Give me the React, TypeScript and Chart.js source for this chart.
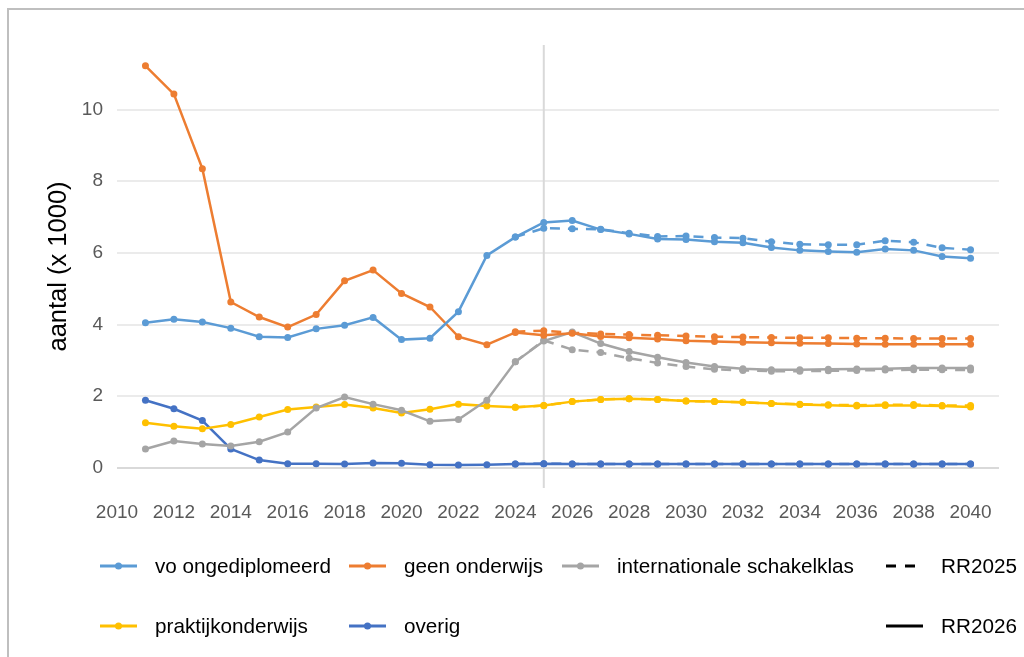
import React, { useEffect, useRef } from "react";
import { Chart, registerables } from "chart.js";

Chart.register(...registerables);

const years26 = [2011,2012,2013,2014,2015,2016,2017,2018,2019,2020,2021,2022,2023,2024,2025,2026,2027,2028,2029,2030,2031,2032,2033,2034,2035,2036,2037,2038,2039,2040];
const years25 = [2024,2025,2026,2027,2028,2029,2030,2031,2032,2033,2034,2035,2036,2037,2038,2039,2040];

const vo26 = [4.05,4.15,4.07,3.90,3.66,3.64,3.88,3.98,4.20,3.58,3.62,4.36,5.93,6.44,6.85,6.90,6.65,6.53,6.39,6.37,6.31,6.28,6.15,6.07,6.04,6.02,6.11,6.07,5.90,5.85];
const geen26 = [11.22,10.43,8.35,4.63,4.21,3.93,4.28,5.22,5.52,4.87,4.49,3.66,3.44,3.78,3.70,3.76,3.67,3.63,3.60,3.55,3.53,3.51,3.49,3.48,3.47,3.46,3.45,3.45,3.45,3.45];
const intl26 = [0.53,0.75,0.67,0.61,0.73,1.00,1.67,1.98,1.78,1.61,1.30,1.35,1.89,2.96,3.54,3.79,3.47,3.25,3.09,2.94,2.83,2.77,2.74,2.74,2.75,2.76,2.77,2.79,2.79,2.79];
const prak26 = [1.26,1.16,1.09,1.21,1.42,1.63,1.70,1.77,1.67,1.53,1.64,1.78,1.73,1.69,1.74,1.85,1.91,1.93,1.91,1.87,1.85,1.83,1.80,1.77,1.75,1.73,1.74,1.74,1.73,1.70];
const overig26 = [1.89,1.65,1.32,0.53,0.22,0.12,0.12,0.11,0.14,0.13,0.09,0.08,0.09,0.11,0.12,0.11,0.11,0.11,0.11,0.11,0.11,0.11,0.11,0.11,0.11,0.11,0.11,0.11,0.11,0.11];

const vo25 = [6.44,6.69,6.67,6.66,6.55,6.46,6.47,6.43,6.41,6.31,6.24,6.23,6.23,6.34,6.30,6.14,6.09];
const geen25 = [3.80,3.83,3.77,3.74,3.72,3.70,3.68,3.66,3.65,3.64,3.63,3.63,3.62,3.62,3.61,3.61,3.61];
const intl25 = [2.96,3.56,3.30,3.22,3.06,2.93,2.83,2.75,2.72,2.70,2.70,2.71,2.72,2.73,2.74,2.74,2.73];
const prak25 = [1.69,1.74,1.85,1.91,1.93,1.91,1.87,1.85,1.83,1.80,1.78,1.76,1.75,1.76,1.77,1.74,1.74];
const overig25 = [0.11,0.12,0.11,0.11,0.11,0.11,0.11,0.11,0.11,0.11,0.11,0.11,0.11,0.11,0.11,0.11,0.11];

const xTicks = [2010,2012,2014,2016,2018,2020,2022,2024,2026,2028,2030,2032,2034,2036,2038,2040];
const yTicks = [0,2,4,6,8,10];
const markerYear = 2025;

const seriesNames = ["vo ongediplomeerd", "geen onderwijs", "internationale schakelklas", "praktijkonderwijs", "overig"];
const seriesColors = ["#5B9BD5", "#ED7D31", "#A5A5A5", "#FFC000", "#4472C4"];
const FONT = "'Liberation Sans', Arial, sans-serif";

const pts = (xs: number[], ys: number[]) => xs.map((x, i) => ({ x, y: ys[i] }));

const vlinePlugin = {
  id: "vline",
  beforeDatasetsDraw(chart: any) {
    const { ctx, chartArea, scales } = chart;
    const x = scales.x.getPixelForValue(markerYear);
    ctx.save();
    ctx.strokeStyle = "#d9d9d9";
    ctx.lineWidth = 2;
    ctx.beginPath();
    ctx.moveTo(x, chartArea.top);
    ctx.lineTo(x, chartArea.bottom);
    ctx.stroke();
    ctx.restore();
  },
};

function LegendItem({ left, top, color, label, dashed, marker }: any) {
  return (
    <div style={{ position: "absolute", left, top, height: 24, display: "flex", alignItems: "center", whiteSpace: "nowrap" }}>
      <svg width={40} height={10} style={{ marginRight: 15 }}>
        <line x1={0} y1={5} x2={37} y2={5} stroke={color} strokeWidth={3} strokeDasharray={dashed ? "10 9" : undefined} />
        {marker ? <circle cx={18.5} cy={5} r={3.5} fill={color} /> : null}
      </svg>
      <span style={{ fontFamily: FONT, fontSize: 20.7, color: "#000" }}>{label}</span>
    </div>
  );
}

export default function App() {
  const ref = useRef<HTMLCanvasElement | null>(null);

  useEffect(() => {
    if (!ref.current) return;
    const solid = [vo26, geen26, intl26, prak26, overig26];
    const dash = [vo25, geen25, intl25, prak25, overig25];
    const datasets: any[] = [];
    solid.forEach((d, i) => {
      datasets.push({
        label: seriesNames[i] + " RR2026",
        data: pts(years26, d),
        borderColor: seriesColors[i],
        backgroundColor: seriesColors[i],
        borderWidth: 2.5,
        pointRadius: 3.5,
        pointBorderWidth: 0,
        pointBackgroundColor: seriesColors[i],
        tension: 0,
      });
    });
    dash.forEach((d, i) => {
      datasets.push({
        label: seriesNames[i] + " RR2025",
        data: pts(years25, d),
        borderColor: seriesColors[i],
        backgroundColor: seriesColors[i],
        borderWidth: 2.5,
        borderDash: [10, 8],
        pointRadius: 3.5,
        pointBorderWidth: 0,
        pointBackgroundColor: seriesColors[i],
        tension: 0,
      });
    });

    const chart = new Chart(ref.current, {
      type: "line",
      data: { datasets },
      plugins: [vlinePlugin],
      options: {
        animation: false,
        responsive: false,
        layout: { padding: { left: 0, top: 45, right: 25, bottom: 0 } },
        plugins: { legend: { display: false }, tooltip: { enabled: false } },
        scales: {
          x: {
            type: "linear",
            min: 2010,
            max: 2041,
            grid: { display: false, drawTicks: false },
            border: { display: false },
            afterBuildTicks: (s: any) => { s.ticks = xTicks.map((v) => ({ value: v })); },
            afterFit: (s: any) => { s.height = 657 - 488; },
            ticks: {
              autoSkip: false,
              maxRotation: 0,
              padding: 13,
              color: "#595959",
              font: { family: FONT, size: 19 },
              callback: (v: any) => String(v),
            },
          },
          y: {
            type: "linear",
            min: -0.56,
            max: 11.8,
            afterBuildTicks: (s: any) => { s.ticks = yTicks.map((v) => ({ value: v })); },
            afterFit: (s: any) => { s.width = 117; },
            grid: {
              drawTicks: false,
              lineWidth: 2,
              color: (c: any) => (c.tick && c.tick.value === 0 ? "#d9d9d9" : "#ebebeb"),
            },
            border: { display: false },
            ticks: {
              padding: 14,
              color: "#595959",
              font: { family: FONT, size: 19 },
              callback: (v: any) => String(v),
            },
            title: {
              display: true,
              text: "aantal (x 1000)",
              color: "#000",
              font: { family: FONT, size: 25.5 },
              padding: { top: 44, bottom: 0 },
            },
          },
        },
      },
    });
    return () => chart.destroy();
  }, []);

  return (
    <div style={{ position: "absolute", left: 0, top: 0, width: 1024, height: 657, overflow: "hidden", background: "#fff" }}>
      <div style={{ position: "absolute", left: 7, top: 8, width: 1017, height: 649, boxSizing: "border-box", borderTop: "2px solid #bfbfbf", borderLeft: "2px solid #bfbfbf" }} />
      <canvas ref={ref} width={1024} height={657} style={{ position: "absolute", left: 0, top: 0, width: 1024, height: 657 }} />
      <LegendItem left={100} top={554} color={seriesColors[0]} label={seriesNames[0]} marker />
      <LegendItem left={349} top={554} color={seriesColors[1]} label={seriesNames[1]} marker />
      <LegendItem left={562} top={554} color={seriesColors[2]} label={seriesNames[2]} marker />
      <LegendItem left={886} top={554} color="#000" label="RR2025" dashed />
      <LegendItem left={100} top={614} color={seriesColors[3]} label={seriesNames[3]} marker />
      <LegendItem left={349} top={614} color={seriesColors[4]} label={seriesNames[4]} marker />
      <LegendItem left={886} top={614} color="#000" label="RR2026" />
    </div>
  );
}
